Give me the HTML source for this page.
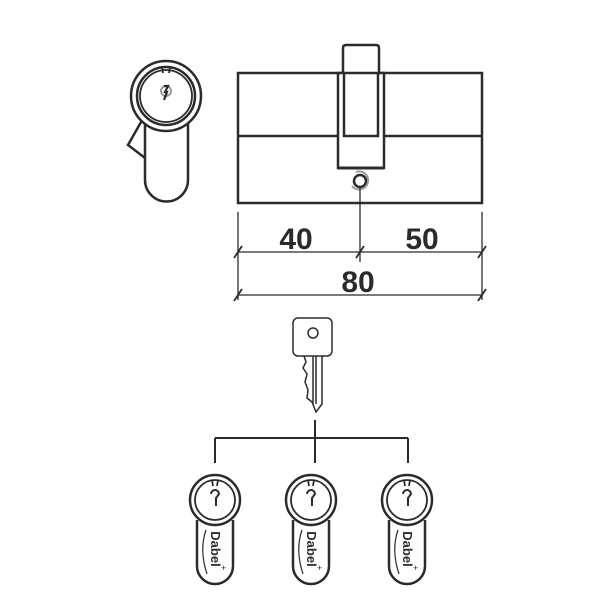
<!DOCTYPE html>
<html><head><style>body{margin:0;background:#fff}svg{display:block}</style></head><body>
<svg width="600" height="600" viewBox="0 0 600 600" xmlns="http://www.w3.org/2000/svg" fill="none" stroke="#2b2b2b" stroke-width="2.5">
<defs>
<g id="cyl">
  <path d="M-18,20 L-18,66 A18,18 0 0 0 18,66 L18,20"/>
  <circle cx="0" cy="0" r="25" fill="#fff"/>
  <circle cx="0" cy="0" r="20" stroke-width="1.8"/>
  <path d="M-3,-20 L-2,-14 M3,-20 L2,-14" stroke-width="1.8"/>
  <path d="M-4,-6 a4,4 0 1 1 8,0 l-3,4 l0,8" stroke-width="2"/>
  <path d="M-9,30 Q-16,50 -8,74" stroke-width="1.2"/>
  <text x="0" y="0" transform="translate(-4,49) rotate(90)" font-family="Liberation Sans, sans-serif" font-weight="bold" font-size="13" fill="#2b2b2b" stroke="none" text-anchor="middle">Dabel</text>
  <text x="6" y="71" font-family="Liberation Sans, sans-serif" font-size="9" fill="#2b2b2b" stroke="none">+</text>
</g>
</defs>
<!-- side profile -->
<path d="M145,115 L128,145 L145,158"/>
<path d="M145,110 L145,180 A21.5,21.5 0 0 0 188,180 L188,110"/>
<circle cx="166" cy="96" r="35" fill="#fff"/>
<circle cx="166" cy="96" r="29"/>
<circle cx="166" cy="96" r="26" stroke-width="1.8"/>
<path d="M162,67 L163,73 M170,67 L169,73" stroke-width="1.8"/>
<circle cx="166" cy="91" r="5" stroke="#999" stroke-width="2"/>
<path d="M164,86 l4,0 l-3,6 l2,0 l-3,8" stroke-width="2.2"/>
<!-- body -->
<rect x="238" y="73" width="244" height="130"/>
<line x1="238" y1="136" x2="482" y2="136"/>
<path d="M343,73 L343,48 Q343,45 346,45 L376,45 Q379,45 379,48 L379,73" fill="#fff"/>
<rect x="338" y="73" width="46" height="95" fill="#fff"/>
<path d="M344,73 L344,136 L378,136 L378,73" />
<line x1="338" y1="168" x2="384" y2="168" stroke-width="3"/>
<circle cx="360" cy="181" r="6"/>
<path d="M352,186 A9,9 0 1 0 356,172" stroke="#999" stroke-width="2"/>
<!-- dims -->
<g stroke-width="1.3">
<line x1="238" y1="212" x2="238" y2="300"/>
<line x1="482" y1="212" x2="482" y2="300"/>
<line x1="360" y1="187" x2="360" y2="262"/>
<line x1="238" y1="252" x2="482" y2="252"/>
<line x1="238" y1="295" x2="482" y2="295"/>
<path d="M234,258 L242,246 M356,258 L364,246 M478,258 L486,246 M234,301 L242,289 M478,301 L486,289" stroke-width="1.8"/>
</g>
<g font-family="Liberation Sans, sans-serif" font-weight="bold" font-size="30" fill="#2b2b2b" stroke="none" text-anchor="middle">
<text x="296" y="249">40</text>
<text x="422" y="249">50</text>
<text x="358" y="292">80</text>
</g>
<!-- key -->
<g stroke-width="1.5">
<rect x="293" y="318" width="39" height="38" rx="5" fill="#fff"/>
<circle cx="313" cy="333" r="5"/>
<path d="M304,356 L306,362 L303,368 L307,374 L305,382 L308,390 L307,398 L312,402 L316,412 L322,404 L322,356"/>
<line x1="313" y1="356" x2="313" y2="404"/>
<line x1="316" y1="356" x2="316" y2="404"/>
</g>
<!-- tree -->
<g stroke-width="2">
<line x1="315" y1="420" x2="315" y2="463"/>
<line x1="215" y1="438" x2="408" y2="438"/>
<line x1="215" y1="438" x2="215" y2="463"/>
<line x1="408" y1="438" x2="408" y2="463"/>
</g>
<use href="#cyl" x="215" y="500"/>
<use href="#cyl" x="311" y="500"/>
<use href="#cyl" x="407" y="500"/>
</svg>
</body></html>
